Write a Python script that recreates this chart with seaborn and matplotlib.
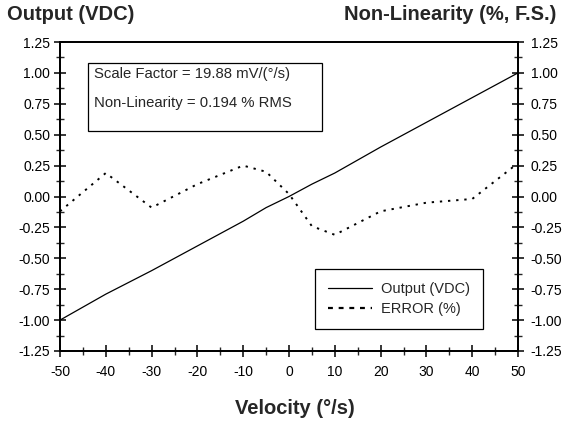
import matplotlib
matplotlib.use("Agg")
import matplotlib.pyplot as plt
import seaborn as sns
import pandas as pd
from matplotlib.ticker import MultipleLocator, FormatStrFormatter
from matplotlib.lines import Line2D
from matplotlib.patches import Rectangle

# -------- DATA --------
velocity = [-50, -40, -30, -20, -10, -5, 0, 5, 10, 20, 30, 40, 50]
output_vdc = [-1.00, -0.79, -0.60, -0.40, -0.20, -0.09, 0.00, 0.10, 0.19, 0.40, 0.60, 0.80, 1.00]
error_pct = [-0.12, 0.19, -0.09, 0.10, 0.25, 0.20, 0.02, -0.24, -0.31, -0.12, -0.05, -0.02, 0.27]

df = pd.DataFrame({"Velocity": velocity, "Output": output_vdc, "Error": error_pct})

# -------- PLOT --------
sns.set_style("white")
plt.rcParams["font.family"] = ["Liberation Sans", "DejaVu Sans"]
plt.rcParams["axes.unicode_minus"] = False

W, H = 562, 421
fig = plt.figure(figsize=(W / 100, H / 100), dpi=100)
# axes box in pixels: left 60, right 518, top 42, bottom 351
ax = fig.add_axes([60 / W, 1 - 351 / H, 458 / W, 309 / H])
ax2 = ax.twinx()

dot_style = (0, (1.2, 3.0))
sns.lineplot(data=df, x="Velocity", y="Output", ax=ax, color="black", linewidth=0.9, legend=False)
sns.lineplot(data=df, x="Velocity", y="Error", ax=ax2, color="black", linewidth=1.4,
             linestyle=dot_style, legend=False)

for a in (ax, ax2):
    a.set_xlim(-50, 50)
    a.set_ylim(-1.25, 1.25)
    a.yaxis.set_major_locator(MultipleLocator(0.25))
    a.yaxis.set_minor_locator(MultipleLocator(0.125))
    a.yaxis.set_major_formatter(FormatStrFormatter("%.2f"))
    a.set_xlabel("")
    a.set_ylabel("")
    for s in a.spines.values():
        s.set_linewidth(1.3)
        s.set_color("black")

ax.xaxis.set_major_locator(MultipleLocator(10))
ax.xaxis.set_minor_locator(MultipleLocator(5))
ax.tick_params(axis="both", which="major", direction="inout", length=8, width=1.1,
               labelsize=10, colors="black", left=True, bottom=True)
ax.tick_params(axis="both", which="minor", direction="inout", length=6, width=1.0,
               left=True, bottom=True)
ax.tick_params(axis="x", pad=6)
ax.tick_params(axis="y", pad=3)
ax2.tick_params(axis="y", which="major", direction="inout", length=8, width=1.1,
                labelsize=10, colors="black", right=True, pad=5)
ax2.tick_params(axis="y", which="minor", direction="inout", length=6, width=1.0, right=True)

# Axis titles
fig.text(7 / W, 1 - 14 / H, "Output (VDC)", fontsize=14.5, fontweight="bold",
         ha="left", va="center")
fig.text(556 / W, 1 - 14 / H, "Non-Linearity (%, F.S.)", fontsize=14.5, fontweight="bold",
         ha="right", va="center")
fig.text(295 / W, 1 - 408 / H, "Velocity (°/s)", fontsize=14.5, fontweight="bold",
         ha="center", va="center")

# Annotation box (pixels: x 88-322, y 63-131)
fig.patches.append(Rectangle((88 / W, 1 - 131 / H), 234 / W, 68 / H, transform=fig.transFigure,
                             facecolor="white", edgecolor="black", linewidth=0.9, zorder=5))
fig.text(94 / W, 1 - 74 / H, "Scale Factor = 19.88 mV/(°/s)", fontsize=10.7,
         ha="left", va="center", zorder=6)
fig.text(94 / W, 1 - 103 / H, "Non-Linearity = 0.194 % RMS", fontsize=10.7,
         ha="left", va="center", zorder=6)

# Legend
handles = [Line2D([], [], color="black", linewidth=0.9),
           Line2D([], [], color="black", linewidth=1.6, linestyle=(0, (2.2, 2.6)))]
leg = ax2.legend(handles, ["Output (VDC)", "ERROR (%)"], loc="lower right",
                 bbox_to_anchor=(0.9236, 0.071), borderaxespad=0,
                 fontsize=10.5, frameon=True, fancybox=False, edgecolor="black",
                 handlelength=3.0, handletextpad=0.6, labelspacing=0.4, borderpad=0.9)
leg.get_frame().set_linewidth(0.9)
leg.get_frame().set_alpha(1)

plt.savefig("out.png", dpi=100)
